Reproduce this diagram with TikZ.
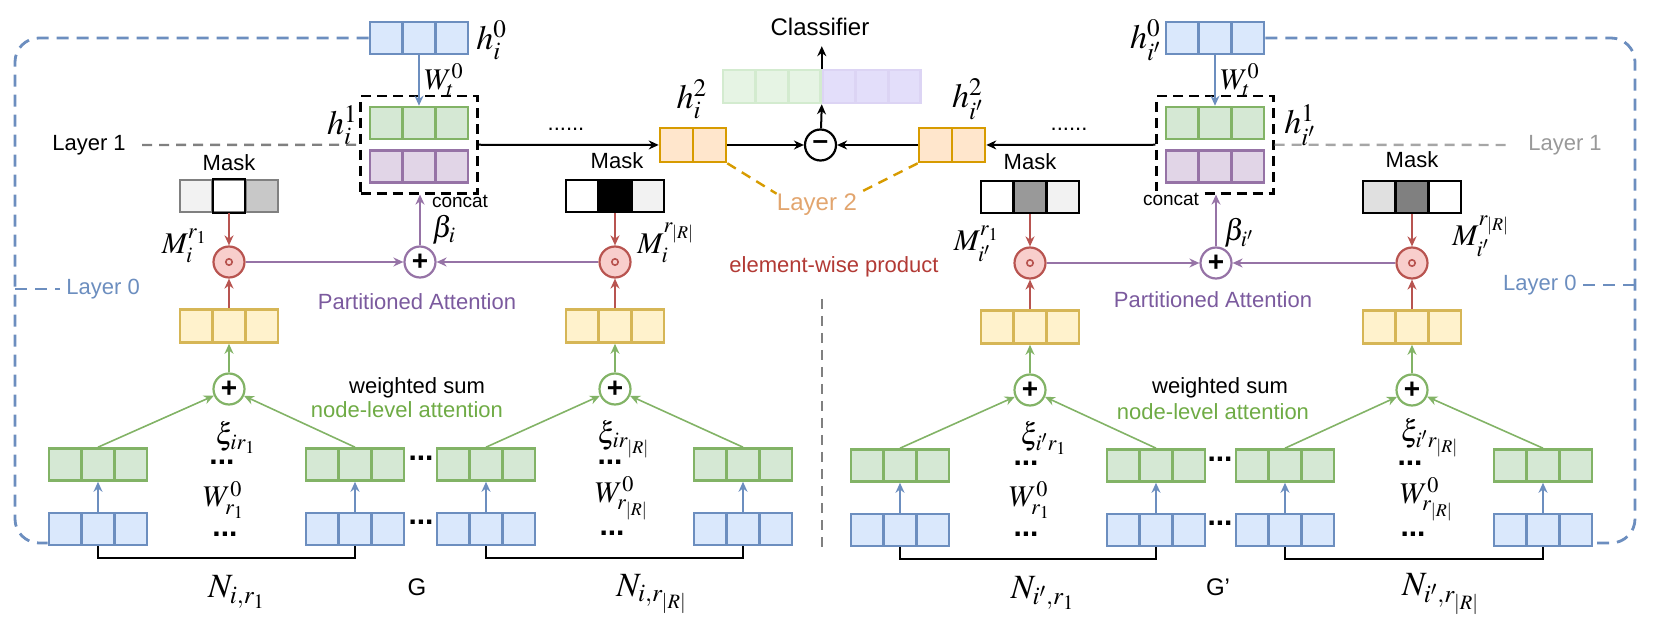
\documentclass[tikz,border=0pt]{standalone}
\usepackage{mathptmx}
\usepackage[no-math]{fontspec}
\setmainfont{Liberation Sans}
\usetikzlibrary{arrows.meta,fit}

\definecolor{bluedraw}{HTML}{6C8EBF}
\definecolor{bluefill}{HTML}{DAE8FC}
\definecolor{greendraw}{HTML}{82B366}
\definecolor{greenfill}{HTML}{D5E8D4}
\definecolor{purpledraw}{HTML}{9673A6}
\definecolor{purplefill}{HTML}{E1D5E7}
\definecolor{yellowdraw}{HTML}{D6B656}
\definecolor{yellowfill}{HTML}{FFF2CC}
\definecolor{orangedraw}{HTML}{D79B00}
\definecolor{orangefill}{HTML}{FFE6CC}
\definecolor{reddraw}{HTML}{B85450}
\definecolor{redfill}{HTML}{F8CECC}
\definecolor{lgdraw}{HTML}{D3EBCF}
\definecolor{lgfill}{HTML}{E6F4E4}
\definecolor{lpdraw}{HTML}{DCD4F4}
\definecolor{lpfill}{HTML}{E3DEFA}
\definecolor{attnpurple}{HTML}{7B5A9E}
\definecolor{attngreen}{HTML}{6FAB45}
\definecolor{prodred}{HTML}{B23A35}
\definecolor{layertwo}{HTML}{E2A56E}

\begin{document}
\begin{tikzpicture}[x=0.5pt, y=-0.5pt,
  vec/.style={rectangle, draw=#1, line width=1.3pt, inner sep=0pt, minimum width=49pt,
    minimum height=16pt, path picture={\foreach \k in {1,2}
      \draw[#1, line width=1.3pt] ([xshift=\k*16.333pt]path picture bounding box.south west)
        -- ([xshift=\k*16.333pt]path picture bounding box.north west);}},
  bluevec/.style={vec=bluedraw, fill=bluefill},
  greenvec/.style={vec=greendraw, fill=greenfill},
  purplevec/.style={vec=purpledraw, fill=purplefill},
  yellowvec/.style={vec=yellowdraw, fill=yellowfill, minimum height=16.5pt},
  lightvec/.style 2 args={vec=#1, fill=#2, minimum width=48.75pt, minimum height=16.5pt},
  orangevec/.style={rectangle, draw=orangedraw, fill=orangefill, line width=1.3pt, inner sep=0pt,
    minimum width=33pt, minimum height=17pt, path picture={
      \draw[orangedraw, line width=1.3pt] (path picture bounding box.south)
        -- (path picture bounding box.north);}},
  maskvec/.style n args={4}{rectangle, draw=#1, line width=1.3pt, inner sep=0pt, minimum width=49pt,
    minimum height=16pt, path picture={
      \fill[#2] (path picture bounding box.south west)
        rectangle ([xshift=16.333pt]path picture bounding box.north west);
      \fill[#3] ([xshift=16.333pt]path picture bounding box.south west)
        rectangle ([xshift=32.667pt]path picture bounding box.north west);
      \fill[#4] ([xshift=32.667pt]path picture bounding box.south west)
        rectangle (path picture bounding box.north east);
      \foreach \k in {1,2}
        \draw[#1, line width=1.3pt] ([xshift=\k*16.333pt]path picture bounding box.south west)
          -- ([xshift=\k*16.333pt]path picture bounding box.north west);}},
  catbox/.style={draw, dash pattern=on 5pt off 3pt, line width=1.3pt, inner xsep=4pt, inner ysep=4.75pt},
  op/.style={circle, draw=#1, line width=1.1pt, fill=white, minimum size=15.5pt, inner sep=0pt,
    font=\fontsize{14}{14}\bfseries},
  prod/.style={op=reddraw, fill=redfill, path picture={\draw[reddraw, line width=0.8pt]
    (path picture bounding box.center) circle (1.6pt);}},
  arr/.style={-{Stealth[length=5pt, width=4.5pt]}, line width=1pt, draw=#1},
  arr/.default=black,
  feed/.style={arr=greendraw, line width=0.8pt},
  bracket/.style={line width=1pt},
  outline/.style={draw=bluedraw, line width=1.4pt, dash pattern=on 6pt off 4pt, rounded corners=12pt},
  layerline/.style={draw=gray, line width=1.2pt, dash pattern=on 5pt off 3.5pt},
  mth/.style={font=\fontsize{17}{17}\selectfont, inner sep=0pt},
  smth/.style={font=\fontsize{15}{15}\selectfont, inner sep=0pt},
  lbl/.style={font=\fontsize{11}{13}\selectfont, inner sep=0pt},
  small/.style={font=\fontsize{9.5}{11}\selectfont, inner sep=0pt},
  big/.style={font=\fontsize{12}{14}\selectfont, inner sep=0pt},
  dotrow/.style={font=\fontsize{15}{15}\bfseries, inner sep=0pt}
  ]
  \useasboundingbox (0,0) rectangle (1656,620);

  % graph G
  \node[bluevec] (h0L) at (419,38) {};
  \node[greenvec] (h1gL) at (419,123) {};
  \node[purplevec] (h1pL) at (419,166.5) {};
  \node[catbox, fit=(h1gL)(h1pL)] (catL) {};
  \node[mth, anchor=west] at (476,40) {$h_i^0$};
  \node[smth, anchor=west] at (424,80) {$W_t^0$};
  \node[mth, anchor=east] at (358,125) {$h_i^1$};
  \node[lbl] (lay1L) at (89,145) {Layer 1};
  \node[small] at (460,201) {concat};
  \draw[arr=bluedraw] (h0L) -- (h1gL);
  \draw[layerline, shorten <=8pt] (lay1L.east) -- (catL.west);

  \node[maskvec={gray}{gray!10}{white}{gray!43}] (m1) at (229,196) {};
  \draw[line width=1.1pt] ([xshift=-8.17pt]m1.south) rectangle ([xshift=8.17pt]m1.north);
  \node[lbl] at (229,163) {Mask};
  \node[prod] (r1) at (229,262) {};
  \node[yellowvec] (y1) at (229,326) {};
  \node[op=greendraw] (s1) at (229,389) {+};
  \node[smth, anchor=east] at (208,246) {$M_i^{r_1}$};

  \node[maskvec={black}{white}{black}{gray!10}] (m2) at (615,196) {};
  \node[lbl] at (617,161) {Mask};
  \node[prod] (r2) at (615,262) {};
  \node[yellowvec] (y2) at (615,326) {};
  \node[op=greendraw] (s2) at (615,389) {+};
  \node[smth, anchor=west] at (637,243) {$M_i^{r_{|R|}}$};

  \node[op=purpledraw] (pL) at (420,262) {+};
  \node[smth, anchor=west] at (432,230) {$\beta_i$};
  \foreach \c in {1,2}{
    \draw[arr=reddraw] (m\c) -- (r\c);
    \draw[arr=reddraw] (y\c) -- (r\c);
    \draw[arr=greendraw] (s\c) -- (y\c);
  }
  \draw[arr=purpledraw] (r1) -- (pL);
  \draw[arr=purpledraw] (r2) -- (pL);
  \draw[arr=purpledraw] (pL) -- (pL |- catL.south);

  \node[lbl, text=attnpurple] at (417,302) {Partitioned Attention};
  \node[lbl, text=bluedraw, anchor=west] (lay0L) at (66,289) {Layer 0};
  \node[lbl] at (417,388) {weighted sum};
  \node[lbl, text=attngreen] at (407,410) {node-level attention};

  \foreach \x/\n in {98/a,355/b,486/c,743/d}{
    \node[greenvec] (gL\n) at (\x,464.5) {};
    \node[bluevec] (bL\n) at (\x,529) {};
    \draw[arr=bluedraw] (bL\n) -- (gL\n);
  }
  \draw[feed] (gLa.north) -- (s1);
  \draw[feed] (gLb.north) -- (s1);
  \draw[feed] (gLc.north) -- (s2);
  \draw[feed] (gLd.north) -- (s2);
  \draw[bracket] (bLa.south) -- ++(0,12) -| (bLb.south);
  \draw[bracket] (bLc.south) -- ++(0,12) -| (bLd.south);
  \node[dotrow] at (421,458) {...};
  \node[dotrow] at (421,522) {...};

  \node[smth] at (236,438) {$\xi_{ir_1}$};
  \node[dotrow] at (222,462) {...};
  \node[smth] at (224,500) {$W_{r_1}^0$};
  \node[dotrow] at (225,534) {...};
  \node[smth] at (624,439) {$\xi_{ir_{|R|}}$};
  \node[dotrow] at (610,462) {...};
  \node[smth] at (622,498) {$W_{r_{|R|}}^0$};
  \node[dotrow] at (612,533) {...};
  \node[mth] at (237,592) {$N_{i,r_1}$};
  \node[mth] at (652,594) {$N_{i,r_{|R|}}$};
  \node[big] at (417,587) {G};

  \draw[outline] (h0L.west) -- (15,38) -- (15,543) -- (bLa.west |- 0,543);
  \draw[outline, rounded corners=0pt, shorten >=3pt] (15,289) -- (lay0L.west);

  % layer 2 and classifier
  \node[orangevec] (oL) at (693,145) {};
  \node[orangevec] (oR) at (952,145) {};
  \node[op=black] (mn) at (820.5,145) {--};
  \node[lightvec={lgdraw}{lgfill}] (clfG) at (771.75,86.5) {};
  \node[lightvec={lpdraw}{lpfill}, anchor=west] (clfP) at (clfG.east) {};
  \node[big] (cls) at (820,27) {Classifier};
  \node[mth] at (692,99) {$h_i^2$};
  \node[mth] at (968,99) {$h_{i'}^2$};
  \node[lbl] at (566,129) {......};
  \node[lbl] at (1069,129) {......};
  \node[lbl, text=layertwo, font=\fontsize{12}{14}\selectfont] (lay2) at (817,205) {Layer 2};
  \draw[orangedraw, line width=1.2pt, dash pattern=on 5pt off 3.5pt] (oL.south east) -- (lay2.north west);
  \draw[orangedraw, line width=1.2pt, dash pattern=on 5pt off 3.5pt] (oR.south west) -- (lay2.north east);
  \node[lbl, text=prodred] at (834,267) {element-wise product};
  \draw[layerline] (822,299) -- (822,547);

  % graph G'
  \node[bluevec] (h0R) at (1215,38) {};
  \node[greenvec] (h1gR) at (1215,123) {};
  \node[purplevec] (h1pR) at (1215,166.5) {};
  \node[catbox, fit=(h1gR)(h1pR)] (catR) {};
  \node[mth, anchor=east] at (1162,40) {$h_{i'}^0$};
  \node[smth, anchor=west] at (1220,80) {$W_t^0$};
  \node[mth, anchor=west] at (1284,125) {$h_{i'}^1$};
  \node[lbl, text=gray!80] (lay1R) at (1565,145) {Layer 1};
  \node[small, fill=white, inner sep=1pt] at (1171,199) {concat};
  \draw[arr=bluedraw] (h0R) -- (h1gR);
  \draw[layerline, draw=gray!70, shorten >=8pt] (catR.east) -- (lay1R.west);

  \draw[arr] (catL.east) -- (oL);
  \draw[arr] (oL) -- (mn);
  \draw[arr] (oR) -- (mn);
  \draw[arr] (catR.west) -- (oR);
  \draw[arr] (mn) -- (clfG.south east);
  \draw[arr, shorten >=5pt] (clfG.north east) -- (clfG.north east |- cls.south);

  \node[maskvec={black}{white}{gray!80}{gray!10}] (m3) at (1030,197) {};
  \node[lbl] at (1030,162) {Mask};
  \node[prod] (r3) at (1030,263) {};
  \node[yellowvec] (y3) at (1030,327) {};
  \node[op=greendraw] (s3) at (1030,390) {+};
  \node[smth, anchor=east] at (1000,244) {$M_{i'}^{r_1}$};

  \node[maskvec={black}{gray!24}{gray}{white}] (m4) at (1412,197) {};
  \node[lbl] at (1412,160) {Mask};
  \node[prod] (r4) at (1412,263) {};
  \node[yellowvec] (y4) at (1412,327) {};
  \node[op=greendraw] (s4) at (1412,390) {+};
  \node[smth, anchor=west] at (1452,236) {$M_{i'}^{r_{|R|}}$};

  \node[op=purpledraw] (pR) at (1216,263) {+};
  \node[smth, anchor=west] at (1224,233) {$\beta_{i'}$};
  \foreach \c in {3,4}{
    \draw[arr=reddraw] (m\c) -- (r\c);
    \draw[arr=reddraw] (y\c) -- (r\c);
    \draw[arr=greendraw] (s\c) -- (y\c);
  }
  \draw[arr=purpledraw] (r3) -- (pR);
  \draw[arr=purpledraw] (r4) -- (pR);
  \draw[arr=purpledraw] (pR) -- (pR |- catR.south);

  \node[lbl, text=attnpurple] at (1213,300) {Partitioned Attention};
  \node[lbl, text=bluedraw, anchor=east] (lay0R) at (1577,285) {Layer 0};
  \node[lbl] at (1220,388) {weighted sum};
  \node[lbl, text=attngreen] at (1213,412) {node-level attention};

  \foreach \x/\n in {900/a,1156/b,1285/c,1543/d}{
    \node[greenvec] (gR\n) at (\x,465.5) {};
    \node[bluevec] (bR\n) at (\x,530) {};
    \draw[arr=bluedraw] (bR\n) -- (gR\n);
  }
  \draw[feed] (gRa.north) -- (s3);
  \draw[feed] (gRb.north) -- (s3);
  \draw[feed] (gRc.north) -- (s4);
  \draw[feed] (gRd.north) -- (s4);
  \draw[bracket] (bRa.south) -- ++(0,12) -| (bRb.south);
  \draw[bracket] (bRc.south) -- ++(0,12) -| (bRd.south);
  \node[dotrow] at (1220,459) {...};
  \node[dotrow] at (1220,523) {...};

  \node[smth] at (1044,438) {$\xi_{i'r_1}$};
  \node[dotrow] at (1026,463) {...};
  \node[smth] at (1030,500) {$W_{r_1}^0$};
  \node[dotrow] at (1026,534) {...};
  \node[smth] at (1430,438) {$\xi_{i'r_{|R|}}$};
  \node[dotrow] at (1410,463) {...};
  \node[smth] at (1427,499) {$W_{r_{|R|}}^0$};
  \node[dotrow] at (1413,534) {...};
  \node[mth] at (1043,593) {$N_{i',r_1}$};
  \node[mth] at (1441,594) {$N_{i',r_{|R|}}$};
  \node[big] at (1218,587) {G'};

  \draw[outline] (h0R.east) -- (1635,38) -- (1635,543) -- (bRd.east |- 0,543);
  \draw[outline, rounded corners=0pt, shorten <=3pt] (lay0R.east) -- (1635,285);
\end{tikzpicture}
\end{document}
